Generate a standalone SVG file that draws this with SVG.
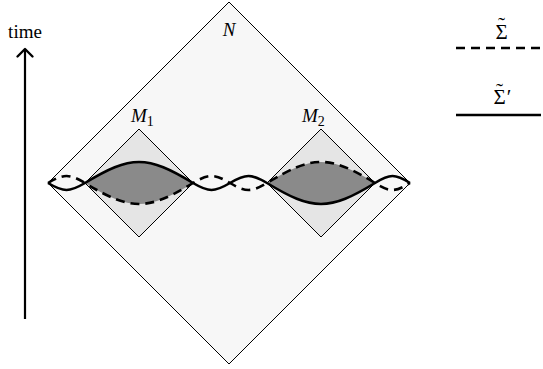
<svg xmlns="http://www.w3.org/2000/svg" width="543" height="369" viewBox="0 0 543 369">
<defs>
<marker id="arr" viewBox="0 0 20 20" refX="10" refY="10" markerWidth="20" markerHeight="20" markerUnits="userSpaceOnUse" orient="auto">
<path d="M2.5,2.5 L10,10 L2.5,17.5" fill="none" stroke="#000" stroke-width="2.4" stroke-linecap="round" stroke-linejoin="round"/>
</marker>
<style>
text{font-family:'Liberation Serif','DejaVu Serif','Times New Roman',serif;fill:#000}
.it{font-style:italic}
.bigd{fill:#f7f7f7;stroke:#000;stroke-width:1}
.smd{fill:#e5e5e5;stroke:#000;stroke-width:1}
.lens{fill:#8a8a8a;stroke:none}
.solid{fill:none;stroke:#000;stroke-width:2.6}
.dash{fill:none;stroke:#000;stroke-width:2.6;stroke-dasharray:9 6}
</style>
</defs>
<rect width="543" height="369" fill="#fff"/>
<g id="time-axis">
<line x1="25" y1="319" x2="25" y2="49" stroke="#000" stroke-width="2.2" marker-end="url(#arr)"/>
<text x="25" y="38" font-size="19" text-anchor="middle">time</text>
</g>
<g id="N">
<polygon class="bigd" points="229,2 410,183 229,364 48,183"/>
<text class="it" x="229" y="36" font-size="19" text-anchor="middle">N</text>
</g>
<g id="M1">
<polygon class="smd" points="139,129 193,183 139,237 85,183"/>
<path class="lens" d="M85,183 C130.8,155 147.2,155 193,183 C147.2,211 130.8,211 85,183 Z"/>
<text class="it" x="131" y="122" font-size="19">M<tspan font-size="14" dy="4" font-style="normal">1</tspan></text>
</g>
<g id="M2">
<polygon class="smd" points="321,129 375,183 321,237 267,183"/>
<path class="lens" d="M267,183 C312.8,211 329.2,211 375,183 C329.2,155 312.8,155 267,183 Z"/>
<text class="it" x="302" y="122" font-size="19">M<tspan font-size="14" dy="4" font-style="normal">2</tspan></text>
</g>
<g id="connectors">
<path class="solid" d="M48,183 C63.7,192.3 69.3,192.3 85,183 C130.8,155 147.2,155 193,183 C208.7,192.3 214.3,192.3 230,183 C245.7,173.7 251.3,173.7 267,183 C312.8,211 329.2,211 375,183 C389.8,173.7 395.2,173.7 410,183"/>
<path class="dash" d="M48,183 C63.7,173.7 69.3,173.7 85,183 C130.8,211 147.2,211 193,183 C208.7,173.7 214.3,173.7 230,183 C245.7,192.3 251.3,192.3 267,183 C312.8,155 329.2,155 375,183 C389.8,192.3 395.2,192.3 410,183"/>
</g>
<g id="legend">
<text x="501.5" y="38.5" font-size="21" text-anchor="middle">Σ<tspan x="501.5" y="32">˜</tspan></text>
<line class="dash" x1="456" y1="48" x2="543" y2="48"/>
<text x="499.5" y="104" font-size="21" text-anchor="middle">Σ<tspan x="499.5" y="97.5">˜</tspan><tspan x="509" y="104">′</tspan></text>
<line class="solid" x1="456" y1="115" x2="541" y2="115"/>
</g>
</svg>
